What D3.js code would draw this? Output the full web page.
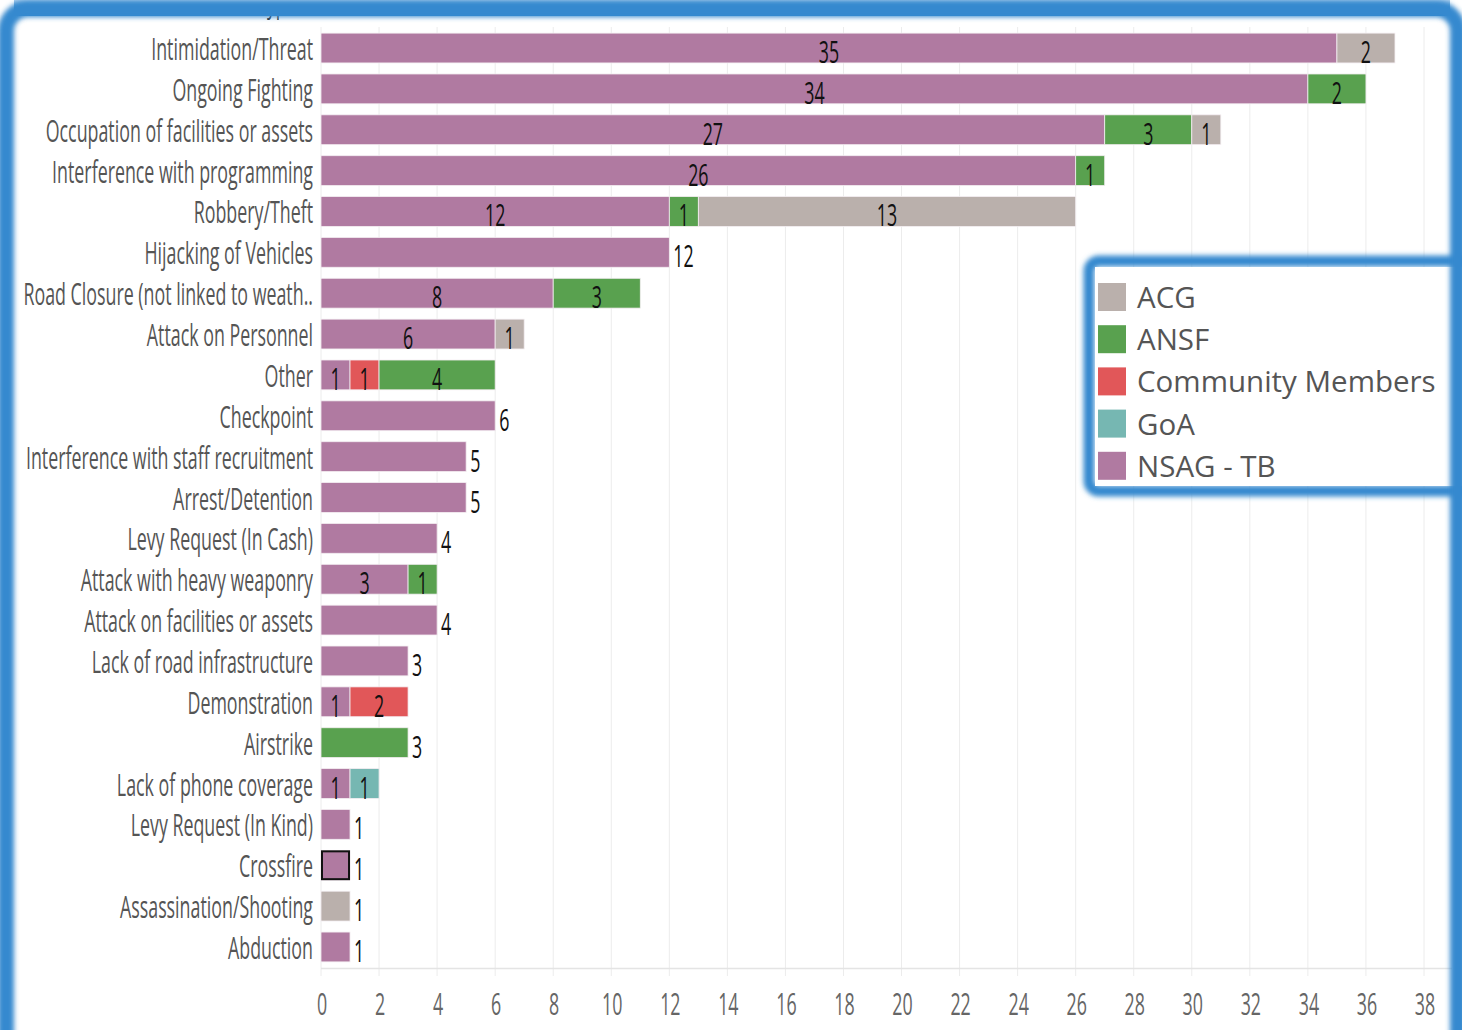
<!DOCTYPE html>
<html>
<head>
<meta charset="utf-8">
<script src="https://cdn.jsdelivr.net/npm/d3@7"></script>
<style>
  html, body { margin: 0; padding: 0; background: #fff; overflow: hidden; }
  svg { display: block; }
</style>
</head>
<body>
<script>
const categories = [
  "Intimidation/Threat", "Ongoing Fighting", "Occupation of facilities or assets",
  "Interference with programming", "Robbery/Theft", "Hijacking of Vehicles",
  "Road Closure (not linked to weath..", "Attack on Personnel", "Other", "Checkpoint",
  "Interference with staff recruitment", "Arrest/Detention", "Levy Request (In Cash)",
  "Attack with heavy weaponry", "Attack on facilities or assets", "Lack of road infrastructure",
  "Demonstration", "Airstrike", "Lack of phone coverage", "Levy Request (In Kind)",
  "Crossfire", "Assassination/Shooting", "Abduction"
];
const nsag      = [35, 34, 27, 26, 12, 12, 8, 6, 1, 6, 5, 5, 4, 3, 4, 3, 1, 0, 1, 1, 1, 0, 1];
const community = [0, 0, 0, 0, 0, 0, 0, 0, 1, 0, 0, 0, 0, 0, 0, 0, 2, 0, 0, 0, 0, 0, 0];
const goa       = [0, 0, 0, 0, 0, 0, 0, 0, 0, 0, 0, 0, 0, 0, 0, 0, 0, 0, 1, 0, 0, 0, 0];
const ansf      = [0, 2, 3, 1, 1, 0, 3, 0, 4, 0, 0, 0, 0, 1, 0, 0, 0, 3, 0, 0, 0, 0, 0];
const acg       = [2, 0, 1, 0, 13, 0, 0, 1, 0, 0, 0, 0, 0, 0, 0, 0, 0, 0, 0, 0, 0, 1, 0];
const legendNames = ["ACG", "ANSF", "Community Members", "GoA", "NSAG - TB"];
const xTicks = d3.range(0, 39, 2);
const highlighted = "Crossfire";

const colors = {
  "ACG": "#bab0ac",
  "ANSF": "#59a14f",
  "Community Members": "#e15759",
  "GoA": "#76b7b2",
  "NSAG - TB": "#b07aa1"
};
const stackKeys = ["NSAG - TB", "Community Members", "GoA", "ANSF", "ACG"];
const seriesByKey = {
  "NSAG - TB": nsag, "Community Members": community, "GoA": goa, "ANSF": ansf, "ACG": acg
};

const width = 1462, height = 1030;
const condensed = 0.575;
const frameBlue = "#3489cf";

const rows = categories.map((c, i) => {
  const r = { category: c };
  stackKeys.forEach(k => (r[k] = seriesByKey[k][i]));
  return r;
});

const x = d3.scaleLinear().domain([0, 38]).range([321, 1424]);
const y = d3.scaleBand().domain(categories).range([27.6, 967.4])
  .paddingInner(0.27).paddingOuter(0.135);

const stacked = d3.stack().keys(stackKeys)(rows);

const svg = d3.select("body").append("svg")
  .attr("width", width).attr("height", height)
  .attr("viewBox", [0, 0, width, height]);

const defs = svg.append("defs");
const blur = defs.append("filter").attr("id", "soft")
  .attr("x", "-5%").attr("y", "-5%").attr("width", "110%").attr("height", "110%");
blur.append("feGaussianBlur").attr("stdDeviation", 2.5);
const topGrad = defs.append("linearGradient").attr("id", "topband")
  .attr("x1", 0).attr("y1", 0).attr("x2", 0).attr("y2", 1);
topGrad.append("stop").attr("offset", "0%").attr("stop-color", "#a9cdec");
topGrad.append("stop").attr("offset", "55%").attr("stop-color", frameBlue);
topGrad.append("stop").attr("offset", "100%").attr("stop-color", frameBlue);

// condensed text helper
function ctext(g, str, px, py, anchor, size, fill) {
  return g.append("text")
    .attr("transform", `translate(${px},${py}) scale(${condensed},1)`)
    .attr("text-anchor", anchor)
    .attr("font-family", "'Open Sans', 'DejaVu Sans', sans-serif")
    .attr("font-size", size)
    .attr("fill", fill)
    .text(str);
}

// header, mostly hidden under the frame
ctext(svg, "Incident Type", 296, 13, "end", 30, "#333");

// grid
const grid = svg.append("g");
grid.selectAll("line.v").data(xTicks).join("line")
  .attr("x1", d => x(d)).attr("x2", d => x(d))
  .attr("y1", 27).attr("y2", 976)
  .attr("stroke", "#ececec").attr("stroke-width", 1);
grid.append("line")
  .attr("x1", 321).attr("x2", 1452).attr("y1", 968.5).attr("y2", 968.5)
  .attr("stroke", "#e4e4e4").attr("stroke-width", 1.5);

// x tick labels
const axisG = svg.append("g");
xTicks.forEach(t => ctext(axisG, t, x(t) + 1, 1015, "middle", 31, "#666"));

// category labels
const labG = svg.append("g");
categories.forEach(c =>
  ctext(labG, c, 313, y(c) + y.bandwidth() / 2 + 12, "end", 31, "#555"));

// bars
const barG = svg.append("g");
stacked.forEach(layer => {
  barG.selectAll(null)
    .data(layer.filter(d => d[1] > d[0]))
    .join("rect")
    .attr("x", d => x(d[0]))
    .attr("y", d => y(d.data.category))
    .attr("width", d => x(d[1]) - x(d[0]))
    .attr("height", y.bandwidth())
    .attr("fill", colors[layer.key])
    .attr("stroke", "#f4eef2").attr("stroke-width", 0.8);
});

// highlighted mark
const hl = stacked[0].find(d => d.data.category === highlighted);
barG.append("rect")
  .attr("x", x(hl[0]) + 1).attr("y", y(highlighted) + 1)
  .attr("width", x(hl[1]) - x(hl[0]) - 2).attr("height", y.bandwidth() - 2)
  .attr("fill", "none").attr("stroke", "#111").attr("stroke-width", 2);

// value labels
const valG = svg.append("g");
rows.forEach(r => {
  const segs = stacked.map(l => l.find(d => d.data.category === r.category))
    .filter(d => d[1] > d[0]);
  const cy = y(r.category) + y.bandwidth() / 2 + 15;
  if (segs.length === 1) {
    ctext(valG, segs[0][1] - segs[0][0], x(segs[0][1]) + 4, cy, "start", 31, "#111");
  } else {
    segs.forEach(d =>
      ctext(valG, d[1] - d[0], x((d[0] + d[1]) / 2), cy, "middle", 31, "#111"));
  }
});

// legend
const lg = svg.append("g");
lg.append("rect")
  .attr("x", 1089).attr("y", 261).attr("width", 400).attr("height", 230)
  .attr("rx", 10).attr("fill", "none")
  .attr("stroke", frameBlue).attr("stroke-width", 11).attr("filter", "url(#soft)");
lg.append("rect")
  .attr("x", 1095).attr("y", 267).attr("width", 400).attr("height", 219)
  .attr("fill", "#fff");
legendNames.forEach((n, i) => {
  const ly = 297 + i * 42.2;
  lg.append("rect")
    .attr("x", 1098).attr("y", ly - 14).attr("width", 28).attr("height", 28)
    .attr("fill", colors[n]);
  lg.append("text")
    .attr("x", 1137).attr("y", ly + 11)
    .attr("font-family", "'Open Sans', 'Noto Sans', sans-serif")
    .attr("font-size", 29.5).attr("fill", "#555")
    .text(n);
});

// outer frame
svg.append("rect")
  .attr("x", 14).attr("y", 0).attr("width", 1436).attr("height", 16)
  .attr("fill", "url(#topband)");
svg.append("rect")
  .attr("x", 6).attr("y", 9).attr("width", 1452).attr("height", 1120)
  .attr("rx", 22).attr("fill", "none")
  .attr("stroke", frameBlue).attr("stroke-width", 16).attr("filter", "url(#soft)");
</script>
</body>
</html>
